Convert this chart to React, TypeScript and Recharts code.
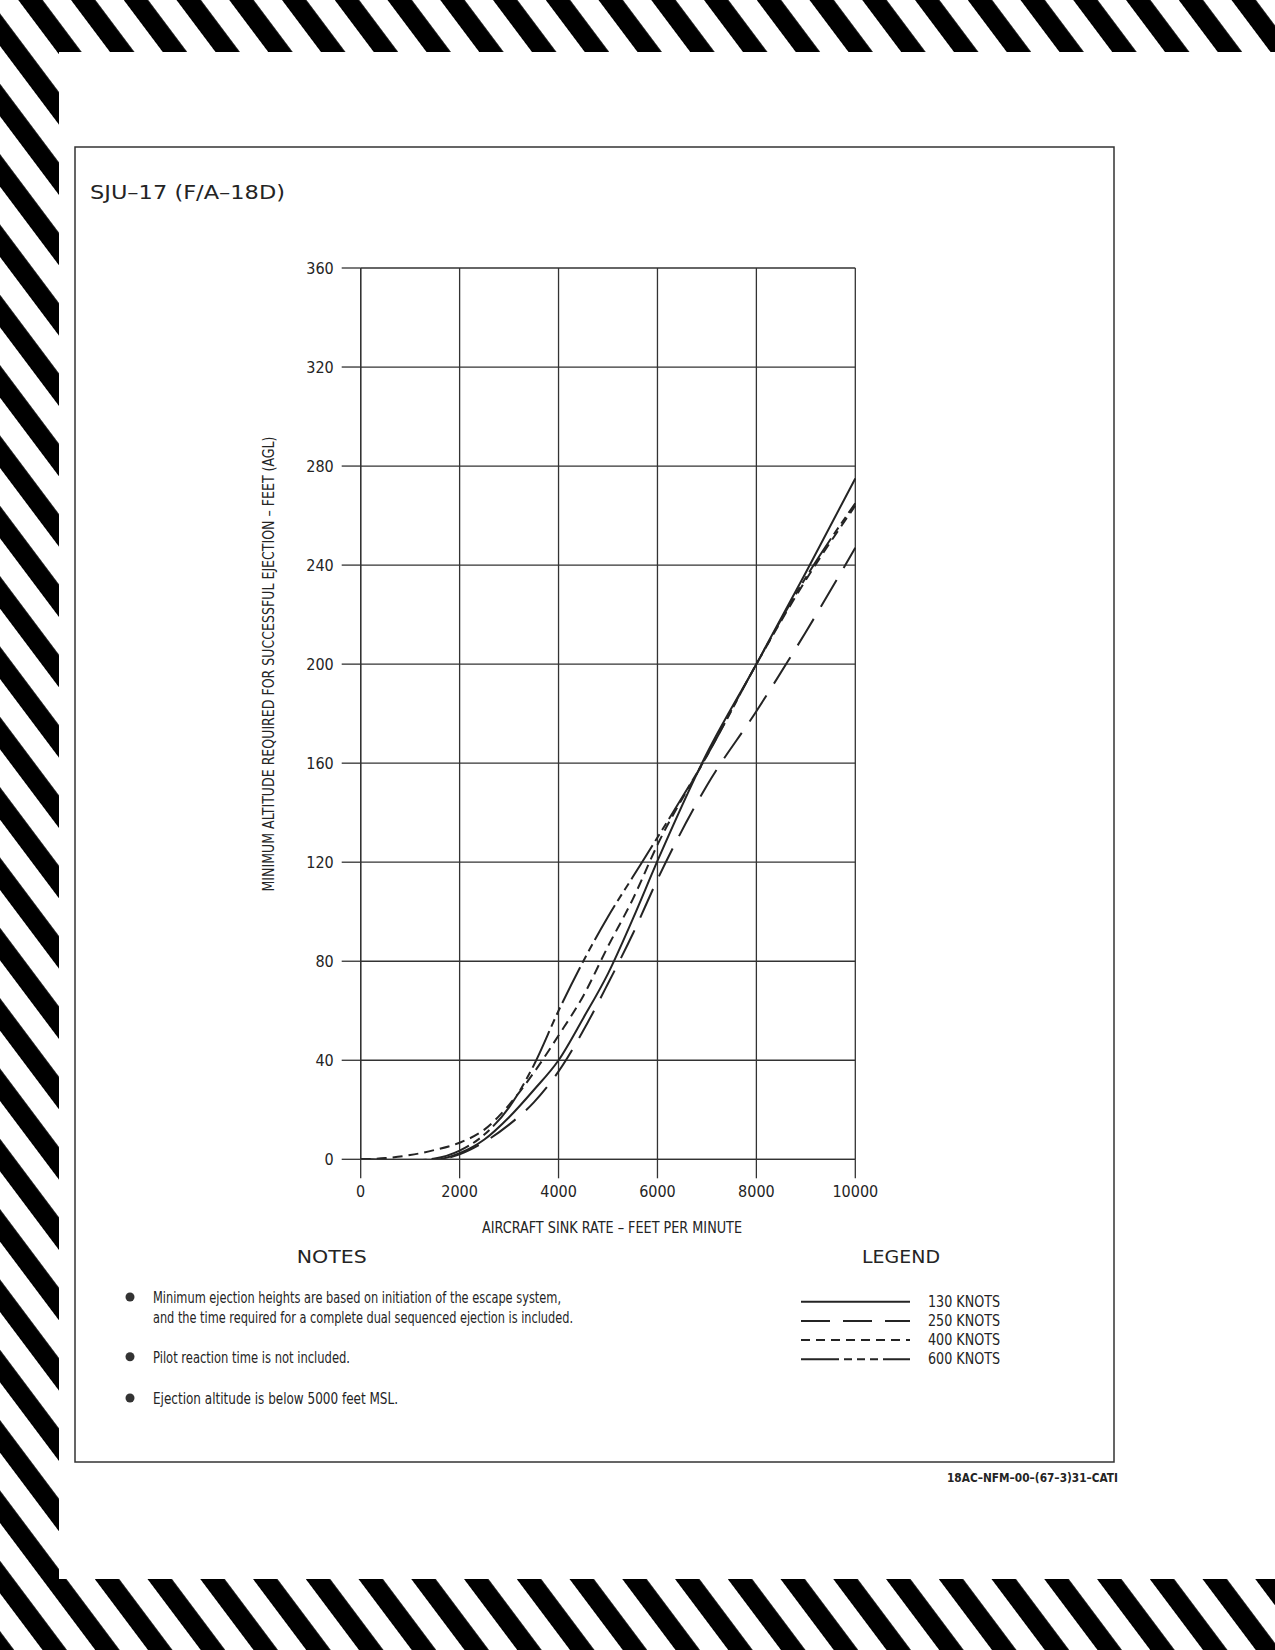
import React from "react"
import { LineChart, Line, XAxis, YAxis, CartesianGrid } from "recharts"

// sink rate (ft/min) and min. ejection altitude (ft AGL)
const sinkRate = [0, 500, 1000, 1500, 2000, 2500, 3000, 3500, 4000, 4500, 5000, 5500, 6000, 7000, 8000, 9000, 10000]
const kt130 = [0, -0.3, -0.6, -0.2, 2.5, 8, 17, 28, 40, 57, 75, 97, 120.5, 164, 200, 237, 275]
const kt250 = [0, -0.4, -0.8, -0.3, 2, 7, 14, 23, 35.5, 52, 71, 91, 113, 151, 181, 213, 247]
const kt400 = [0, 0.5, 1.7, 3.8, 6.7, 12, 22, 35, 50, 66, 86, 105, 127, 163, 200, 234, 264]
const kt600 = [0, -0.3, -0.5, 0.3, 3.5, 10, 21, 38, 60, 80, 98, 114, 130, 163, 200, 235, 265]

const xTicks = [0, 2000, 4000, 6000, 8000, 10000]
const yTicks = [0, 40, 80, 120, 160, 200, 240, 280, 320, 360]

const seriesNames = ["130 KNOTS", "250 KNOTS", "400 KNOTS", "600 KNOTS"]
const seriesKeys = ["kt130", "kt250", "kt400", "kt600"]
const seriesDash = ["", "31 14", "10 6", "40 5 8 5 8 5"]

const notes = [
  ["Minimum ejection heights are based on initiation of the escape system,",
    "and the time required for a complete dual sequenced ejection is included."],
  ["Pilot reaction time is not included."],
  ["Ejection altitude is below 5000 feet MSL."],
]

const data = sinkRate.map((x, i) => ({
  x,
  kt130: kt130[i],
  kt250: kt250[i],
  kt400: kt400[i],
  kt600: kt600[i],
}))

const INK = "#242424"
const COND = "'DejaVu Sans Condensed', 'DejaVu Sans', sans-serif"
const WIDE = "'DejaVu Sans', sans-serif"

function Stripes() {
  return (
    <svg width={1275} height={1650} style={{ position: "absolute", left: 0, top: 0 }}>
      <defs>
        <pattern id="hazard" patternUnits="userSpaceOnUse" width={42.2} height={100}
          x={14.6} patternTransform="rotate(-36.87)">
          <rect x={0} y={0} width={19.5} height={100} fill="#000" />
        </pattern>
      </defs>
      <rect x={0} y={0} width={1275} height={1650} fill="url(#hazard)" />
      <rect x={59} y={52} width={1216} height={1527} fill="#fff" />
    </svg>
  )
}

function Overlay() {
  const noteLens = [[408, 420], [197], [245]]
  const noteBase = [1303, 1362.7, 1404]
  return (
    <svg width={1275} height={1650} style={{ position: "absolute", left: 0, top: 0, pointerEvents: "none" }}>
      <rect x={75} y={147} width={1039} height={1315} fill="none" stroke="#333" strokeWidth={1.5} />
      <text x={90} y={199} fontFamily={WIDE} fontSize={20} fill={INK} textLength={195} lengthAdjust="spacingAndGlyphs">
        SJU–17 (F/A–18D)
      </text>

      <text x={612} y={1233} textAnchor="middle" fontFamily={COND} fontSize={15} fill={INK}
        textLength={260} lengthAdjust="spacingAndGlyphs">
        AIRCRAFT SINK RATE – FEET PER MINUTE
      </text>
      <text x={0} y={0} transform="translate(274 664) rotate(-90)" textAnchor="middle" fontFamily={COND}
        fontSize={15} fill={INK} textLength={455} lengthAdjust="spacingAndGlyphs">
        MINIMUM ALTITUDE REQUIRED FOR SUCCESSFUL EJECTION – FEET (AGL)
      </text>

      <text x={331.7} y={1263.3} textAnchor="middle" fontFamily={WIDE} fontSize={18} fill={INK}
        textLength={70} lengthAdjust="spacingAndGlyphs">NOTES</text>
      {notes.map((lines, i) => (
        <g key={i}>
          <circle cx={130} cy={noteBase[i] - 6} r={4.5} fill="#333" />
          {lines.map((t, j) => (
            <text key={j} x={153} y={noteBase[i] + j * 19.5} fontFamily={COND} fontSize={16} fill={INK}
              textLength={noteLens[i][j]} lengthAdjust="spacingAndGlyphs">{t}</text>
          ))}
        </g>
      ))}

      <text x={901} y={1263.3} textAnchor="middle" fontFamily={WIDE} fontSize={18} fill={INK}
        textLength={78} lengthAdjust="spacingAndGlyphs">LEGEND</text>
      {seriesNames.map((n, i) => {
        const y = 1301.7 + i * 19.2
        return (
          <g key={n}>
            <line x1={801} x2={910} y1={y} y2={y} stroke={INK} strokeWidth={2}
              strokeDasharray={i === 3 ? "38 5 8 5 8 5 8 5 38" : i === 1 ? "29 13" : i === 2 ? "9 6" : undefined} />
            <text x={928} y={y + 5} fontFamily={COND} fontSize={15} fill={INK}
              textLength={72} lengthAdjust="spacingAndGlyphs">{n}</text>
          </g>
        )
      })}

      <text x={1118} y={1481.7} textAnchor="end" fontFamily={COND} fontSize={12.5} fontWeight="bold" fill={INK}
        textLength={171} lengthAdjust="spacingAndGlyphs">18AC–NFM–00–(67–3)31–CATI</text>
    </svg>
  )
}

export default function App() {
  const tickStyle = { fontSize: 16, fill: INK, fontFamily: COND }
  return (
    <div style={{ position: "absolute", left: 0, top: 0, width: 1275, height: 1650, background: "#fff", overflow: "hidden" }}>
      <Stripes />
      <div style={{ position: "absolute", left: 0, top: 0 }}>
        <LineChart width={1275} height={1650} data={data}
          margin={{ top: 268, right: 419.7, bottom: 450.7, left: 300.7 }}>
          <CartesianGrid stroke="#333" strokeWidth={1.3} />
          <XAxis type="number" dataKey="x" domain={[0, 10000]} ticks={xTicks} interval={0}
            height={40} tickSize={19} tickMargin={7} tick={tickStyle}
            axisLine={{ stroke: "#333", strokeWidth: 1.3 }} tickLine={{ stroke: "#333", strokeWidth: 1.3 }} />
          <YAxis type="number" domain={[0, 360]} ticks={yTicks} interval={0} allowDataOverflow
            width={60} tickSize={19} tickMargin={8} tick={tickStyle}
            axisLine={{ stroke: "#333", strokeWidth: 1.3 }} tickLine={{ stroke: "#333", strokeWidth: 1.3 }} />
          {seriesKeys.map((k, i) => (
            <Line key={k} dataKey={k} name={seriesNames[i]} type="monotone" dot={false}
              stroke={INK} strokeWidth={2} strokeDasharray={seriesDash[i] || undefined}
              isAnimationActive={false} />
          ))}
        </LineChart>
      </div>
      <Overlay />
    </div>
  )
}
